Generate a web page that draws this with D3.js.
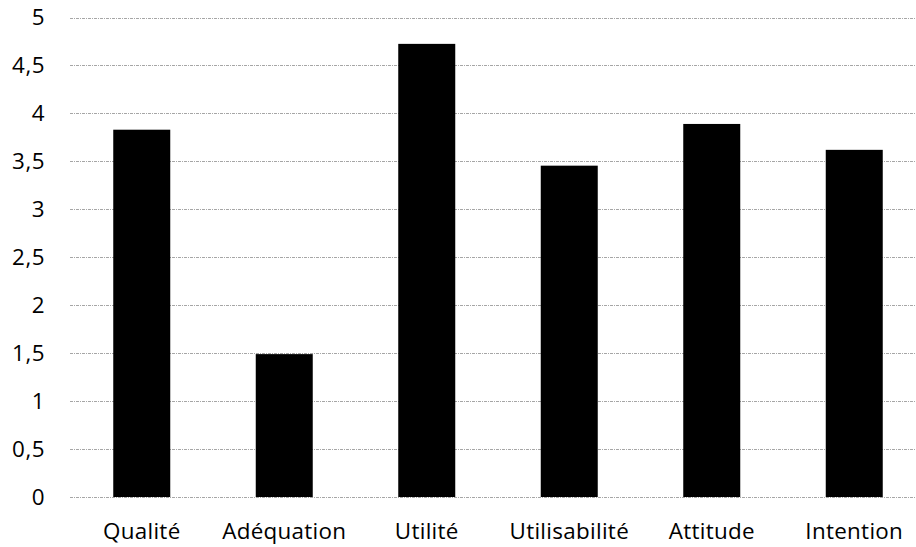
<!DOCTYPE html>
<html><head><meta charset="utf-8">
<script src="https://cdn.jsdelivr.net/npm/d3@7"></script>
<style>body{margin:0;background:#fff}svg{display:block}</style>
</head><body>
<svg id="c" width="916" height="547"></svg>
<script>
const categories = ["Qualité","Adéquation","Utilité","Utilisabilité","Attitude","Intention"];
const values = [3.83, 1.49, 4.725, 3.455, 3.89, 3.62];
const yTicks = [0,0.5,1,1.5,2,2.5,3,3.5,4,4.5,5];
const yTickLabels = ["0","0,5","1","1,5","2","2,5","3","3,5","4","4,5","5"];

const svg = d3.select("#c");
const font = "'Open Sans', sans-serif";
const x = d3.scaleBand().domain(categories).range([70.5, 925.5]).paddingInner(0.6).paddingOuter(0.3);
const y = d3.scaleLinear().domain([0,5]).range([497, 17.5]);

// gridlines
svg.append("g").selectAll("line").data(yTicks).join("line")
  .attr("x1", 70).attr("x2", 916)
  .attr("y1", d => Math.round(y(d))+0.5).attr("y2", d => Math.round(y(d))+0.5)
  .attr("stroke", "#a6a6a6").attr("stroke-width", 1)
  .attr("stroke-dasharray", "3,1,1,1");

// bars
svg.append("g").selectAll("rect").data(values).join("rect")
  .attr("x", (d,i) => x(categories[i]))
  .attr("width", x.bandwidth())
  .attr("y", d => y(d))
  .attr("height", d => y(0) - y(d))
  .attr("fill", "#000");

// y axis labels
const yAxis = d3.axisLeft(y).tickValues(yTicks).tickFormat((d,i) => yTickLabels[i]).tickSize(0).tickPadding(0);
const ya = svg.append("g").attr("transform", "translate(45,0)").call(yAxis);
ya.select(".domain").remove();
ya.selectAll("text").attr("font-family", font).attr("font-size", 22.4).attr("letter-spacing", 0.5).attr("fill", "#000");

// x axis labels
const xAxis = d3.axisBottom(x).tickSize(0).tickPadding(0);
const xa = svg.append("g").attr("transform", "translate(0,539)").call(xAxis);
xa.select(".domain").remove();
xa.selectAll("text").attr("font-family", font).attr("font-size", 22.4).attr("letter-spacing", 0.3).attr("fill", "#000").attr("dy", 0);
</script>
</body></html>
